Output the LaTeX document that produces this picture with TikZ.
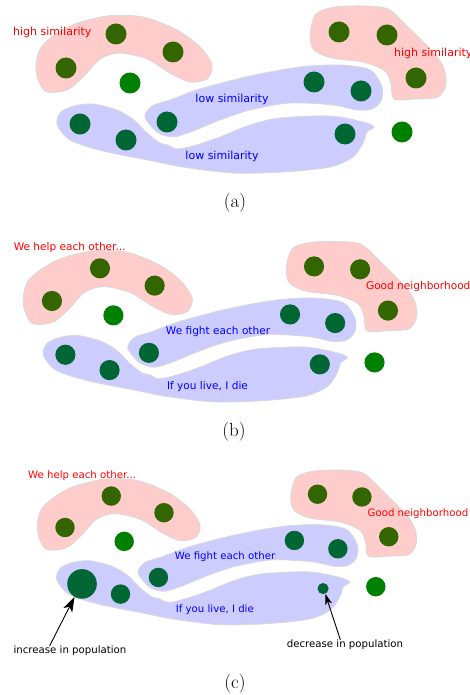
\documentclass[tikz,border=0pt]{standalone}
\usepackage{fontspec}
\usetikzlibrary{arrows.meta}
\newfontfamily\labelfont{DejaVu Sans}
\definecolor{cHigh}{HTML}{FFCCCC}
\definecolor{cLow}{HTML}{CCCCFF}
\definecolor{cEdge}{HTML}{D9D9D9}
\definecolor{cHighDot}{HTML}{336600}
\definecolor{cLowDot}{HTML}{006633}
\definecolor{cLone}{HTML}{008000}
\tikzset{
  blob/.style={draw=cEdge, line width=0.8pt},
  highblob/.style={blob, fill=cHigh},
  lowblob/.style={blob, fill=cLow},
  colony/.style={circle, inner sep=0pt, minimum size=21pt},
  highdot/.style={colony, fill=cHighDot},
  lowdot/.style={colony, fill=cLowDot},
  lonedot/.style={colony, fill=cLone},
  tag/.style={font=\labelfont\fontsize{11}{13}\selectfont, inner sep=0pt},
  hightag/.style={tag, text=red},
  lowtag/.style={tag, text=blue},
  notetag/.style={tag, text=black},
  caption/.style={font=\fontsize{19}{19}\selectfont, inner sep=0pt},
  growth/.style={-{Stealth[length=15pt, width=10pt, inset=4pt]}, line width=0.9pt},
  decline/.style={-{Stealth[length=11pt, width=7pt, inset=3pt]}, line width=0.9pt},
}
% the four groups, in the coordinates of panel (a)
\newcommand\blobs{%
  \draw[highblob] plot[smooth cycle, tension=0.5] coordinates {
    (36,70) (42,46) (70,26) (107,16) (143,17) (177,30) (200,47) (212,65)
    (207,79) (190,82) (170,73) (147,59) (120,53) (100,59) (84,76) (67,90) (45,91)};
  \draw[highblob] plot[smooth cycle, tension=0.5] coordinates {
    (310,35) (316,14) (335,7) (365,6) (388,9) (405,24) (430,49) (443,66)
    (446,84) (438,97) (414,99) (394,99) (391,84) (385,71) (363,62) (332,58) (314,50)};
  \draw[lowblob] plot[smooth cycle, tension=0.5] coordinates {
    (145,117) (152,106) (170,100) (200,89) (250,76) (300,67) (340,65) (370,70)
    (382,87) (381,101) (372,109) (357,110) (333,105) (290,103) (250,110)
    (220,120) (193,131) (173,137) (157,132)};
  \draw[lowblob] plot[smooth cycle, tension=0.5] coordinates {
    (57,124) (61,112) (74,106) (93,104) (117,110) (134,120) (147,133) (160,143)
    (168,145) (177,149) (193,146) (220,137) (250,125) (280,118) (330,116)
    (363,122) (374,127) (367,132) (363,143) (353,157) (330,167) (283,172)
    (233,173) (183,167) (153,161) (103,151) (70,140)};
}
% #1 panel, #2/#3 place and size of the first lower dot, #4 size of the last one
\newcommand\colonies[4]{%
  \node[highdot] (#1-h1) at (66,68) {};
  \node[highdot] (#1-h2) at (116,34) {};
  \node[highdot] (#1-h3) at (173,52) {};
  \node[lonedot] (#1-s1) at (130,83) {};
  \node[highdot] (#1-h4) at (339,32) {};
  \node[highdot] (#1-h5) at (387,35) {};
  \node[highdot] (#1-h6) at (416,78) {};
  \node[lowdot]  (#1-f1) at (167,122) {};
  \node[lowdot]  (#1-f2) at (314,82) {};
  \node[lowdot]  (#1-f3) at (361,91) {};
  \node[lowdot, minimum size=#3] (#1-g1) at #2 {};
  \node[lowdot]  (#1-g2) at (126,140) {};
  \node[lowdot, minimum size=#4] (#1-g3) at (345,134) {};
  \node[lonedot] (#1-s2) at (402,132) {};
}

\begin{document}
\begin{tikzpicture}[x=1pt, y=-1pt]
  \useasboundingbox[fill=white] (0,0) rectangle (469,695);

  % ---------------- (a)
  \begin{scope}
    \blobs
    \colonies{a}{(80,124)}{21pt}{21pt}
    \node[hightag, anchor=west] (a-t1) at (13,32) {high similarity};
    \node[hightag, anchor=west] (a-t2) at (394,53) {high similarity};
    \node[lowtag] (a-t3) at (232,99) {low similarity};
    \node[lowtag] (a-t4) at (222,156) {low similarity};
  \end{scope}
  \node[caption] (capa) at (235,203) {(a)};

  % ---------------- (b)
  \begin{scope}[shift={(-11.4,235.7)}, scale=0.96, transform shape]
    \blobs
    \colonies{b}{(80,124)}{21pt}{21pt}
    \node[hightag, anchor=west] (b-t1) at (26,12.5) {We help each other...};
    \node[hightag, anchor=west] (b-t2) at (393,53) {Good neighborhood};
    \node[lowtag] (b-t3) at (239,99.5) {We fight each other};
    \node[lowtag] (b-t4) at (228,157) {If you live, I die};
  \end{scope}
  \node[caption] (capb) at (234,432) {(b)};

  % ---------------- (c)
  \begin{scope}[shift={(3.95,464.6)}, scale=0.925, transform shape]
    \blobs
    \colonies{c}{(84.4,129)}{32pt}{12pt}
    \node[hightag, anchor=west] (c-t1) at (26,12.5) {We help each other...};
    \node[hightag, anchor=west] (c-t2) at (393,53) {Good neighborhood};
    \node[lowtag] (c-t3) at (239,99.5) {We fight each other};
    \node[lowtag] (c-t4) at (228,157) {If you live, I die};
    \node[notetag] (c-inc) at (71.4,201.5) {increase in population};
    \node[notetag] (c-dec) at (368.7,195) {decrease in population};
    \draw[growth] ([xshift=-22pt]c-inc.north) -- (c-g1.240);
    \draw[decline] ([xshift=-5pt]c-dec.north) -- (c-g3.293);
  \end{scope}
  \node[caption] (capc) at (235,684) {(c)};
\end{tikzpicture}
\end{document}
